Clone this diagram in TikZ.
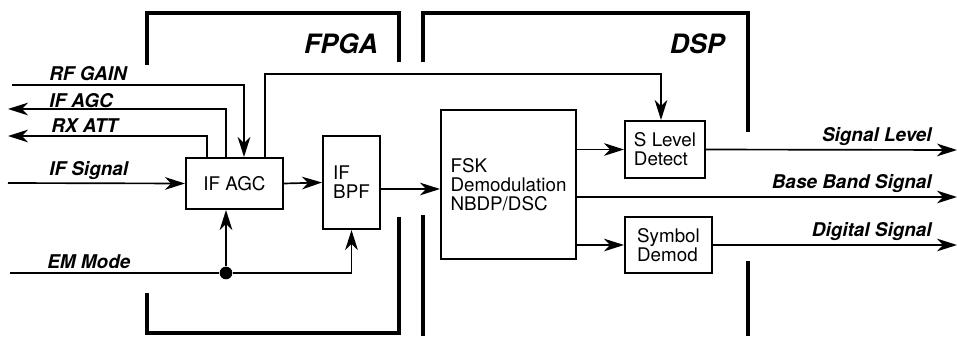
\documentclass[tikz,border=0pt]{standalone}
\usepackage{fontspec}
\setmainfont{TeX Gyre Heros}
\usetikzlibrary{arrows.meta,calc}

\begin{document}
\begin{tikzpicture}[x=0.75pt, y=-0.75pt,
  every node/.style={font=\fontsize{14.1}{14.3}\selectfont},
  box/.style={draw, line width=1.5pt, align=left, inner sep=0pt},
  sig/.style={line width=1.25pt, -{Stealth[length=15pt,width=9.5pt,inset=4.5pt]}},
  wire/.style={line width=1.25pt},
  frame/.style={line width=2.5pt},
  lbl/.style={inner sep=0pt, font=\fontsize{14.2}{16}\selectfont\bfseries\itshape},
  title/.style={inner sep=0pt, font=\fontsize{20}{22}\selectfont\bfseries\itshape},
  dot/.style={circle, fill, inner sep=0pt, minimum size=9.5pt}]
  \useasboundingbox (0,0) rectangle (957,336);

  % FPGA and DSP frames
  \draw[frame] (147,65) |- (399,13) -- (399,62);
  \draw[frame] (147,293) |- (399,333) -- (399,217);
  \draw[frame] (423,62) |- (748,13) -- (748,132);
  \draw[frame] (423,215) -- (423,336);
  \draw[frame] (748,261) -- (748,336);
  \node[title, anchor=base east] (fpga) at (378,53) {FPGA};
  \node[title, anchor=base east] (dsp) at (725,53) {DSP};

  % blocks
  \node[box, minimum width=72.75pt, minimum height=38.25pt] (agc) at (234.5,183.5) {IF AGC};
  \node[box, minimum width=42.75pt, minimum height=69.75pt] (bpf) at (351.5,182.5) {IF\\BPF};
  \node[box, minimum width=101.25pt, minimum height=111.75pt] (fsk) at (508.5,184.5) {FSK\\Demodulation\\NBDP/DSC};
  \node[box, minimum width=60pt, minimum height=42.75pt] (slev) at (665,149.5) {S Level\\Detect};
  \node[box, minimum width=65.25pt, minimum height=42pt] (sym) at (668.5,245) {Symbol\\Demod};

  % free ends
  \coordinate (rfin) at (12,85);
  \coordinate (agcout) at (8,109);
  \coordinate (attout) at (8,136);
  \coordinate (ifin) at (8,183);
  \coordinate (emin) at (10,273);
  \coordinate (lvlout) at (957,150);
  \coordinate (bbout) at (957,197);
  \coordinate (digout) at (957,245);

  % signal labels
  \node[lbl, anchor=base west] (rflab) at (49,80) {RF GAIN};
  \node[lbl, anchor=base west] (agclab) at (49,107) {IF AGC};
  \node[lbl, anchor=base west] (attlab) at (51,132.5) {RX ATT};
  \node[lbl, anchor=base west] (iflab) at (49,175) {IF Signal};
  \node[lbl, anchor=base west] (emlab) at (47,268) {EM Mode};
  \node[lbl, anchor=base east] (lvllab) at (932,141) {Signal Level};
  \node[lbl, anchor=base east] (bblab) at (932,188.5) {Base Band Signal};
  \node[lbl, anchor=base east] (diglab) at (932,236) {Digital Signal};

  % connections
  \draw[sig] (rfin) -| ($(agc.north west)+(59,0)$);
  \draw[sig] ($(agc.north west)+(41,0)$) |- (agcout);
  \draw[sig] ($(agc.north west)+(22,0)$) |- (attout);
  \draw[sig] (ifin) -- (agc.west);
  \draw[sig] ($(agc.north west)+(80,0)$) -- ++(0,-83) -| ($(slev.north)+(-4,0)$);
  \draw[sig] (agc.east) -- (bpf.west);
  \draw[sig] ($(bpf.east)+(0,6.5)$) -- ($(fsk.west)+(0,4.5)$);
  \draw[sig] (fsk.east |- slev.west) -- (slev.west);
  \draw[sig] (fsk.east |- sym.west) -- (sym.west);
  \draw[sig] (slev.east) -- (lvlout);
  \draw[sig] (fsk.east |- bbout) -- (bbout);
  \draw[sig] (sym.east) -- (digout);
  \node[dot] (emdot) at ($(agc.south west |- emin)+(41,0)$) {};
  \draw[wire] (emin) -- (emdot);
  \draw[sig] (emdot) -| (bpf.south);
  \draw[sig] (emdot) -- (emdot |- agc.south);
\end{tikzpicture}
\end{document}
